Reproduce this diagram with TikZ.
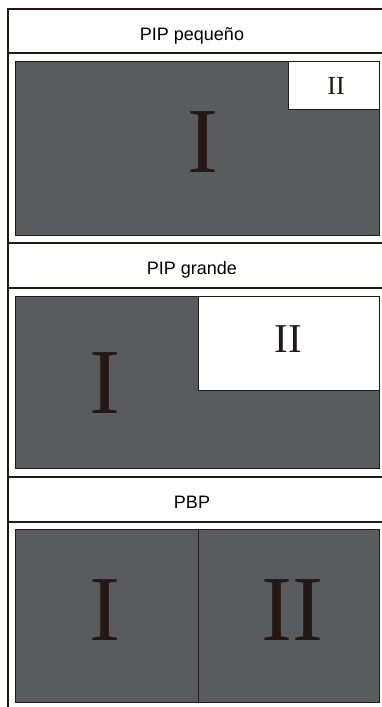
\documentclass[tikz,border=0pt]{standalone}
\usepackage{fontspec}
\setmainfont{Liberation Serif}
\setsansfont{Liberation Sans}
\usetikzlibrary{positioning}
\definecolor{screengray}{HTML}{595B5E}
\definecolor{inkdark}{HTML}{231815}
\tikzset{
  frameline/.style={draw=inkdark, line width=1.4pt},
  screen/.style={rectangle, draw=inkdark, line width=0.9pt, fill=screengray, anchor=north west, inner sep=0pt, minimum width=364pt},
  inset/.style={rectangle, draw=inkdark, line width=0.6pt, fill=white, anchor=north east, inner sep=0pt},
  modetitle/.style={anchor=base, inner sep=0pt, font=\sffamily\fontsize{18}{20}\selectfont, text=black},
  numeral/.style={anchor=base, inner sep=0pt, text=inkdark},
  bignum/.style={numeral, font=\fontsize{93}{93}\selectfont},
}

\begin{document}
\begin{tikzpicture}[x=1pt, y=-1pt]
  \useasboundingbox[fill=white] (0,0) rectangle (382,707);

  % frame of the three modes
  \draw[frameline] (382,9) -- (8,9) -- (8,707);
  \foreach \yy in {53,243,288,477,522}
    \draw[frameline] (8,\yy) -- (382,\yy);

  % titles
  \node[modetitle] (small) at (192,40) {PIP pequeño};
  \node[modetitle] (large) at (192,274) {PIP grande};
  \node[modetitle] (pbp) at (192,508) {PBP};

  % PIP pequeño
  \node[screen, minimum height=174pt] (screenA) at (15,61) {};
  \node[inset, minimum width=91pt, minimum height=48pt] (insetA) at (screenA.north east) {};
  \node[bignum] (mainA) at (203,172) {I};
  \node[numeral, font=\fontsize{26}{26}\selectfont] (subA) at (336,94) {II};

  % PIP grande
  \node[screen, minimum height=172pt] (screenB) at (15,296) {};
  \node[inset, minimum width=181pt, minimum height=94pt] (insetB) at (screenB.north east) {};
  \node[bignum] (mainB) at (105,413) {I};
  \node[numeral, font=\fontsize{41}{41}\selectfont] (subB) at (288,352) {II};

  % PBP
  \node[screen, minimum height=173pt] (screenC) at (15,529) {};
  \draw[draw=inkdark, line width=0.6pt] (screenC.north) ++(1,0) coordinate (divtop) -- (divtop |- screenC.south);
  \node[bignum] (mainC) at (105,640) {I};
  \node[bignum] (subC) at (292,640) {II};
\end{tikzpicture}
\end{document}
